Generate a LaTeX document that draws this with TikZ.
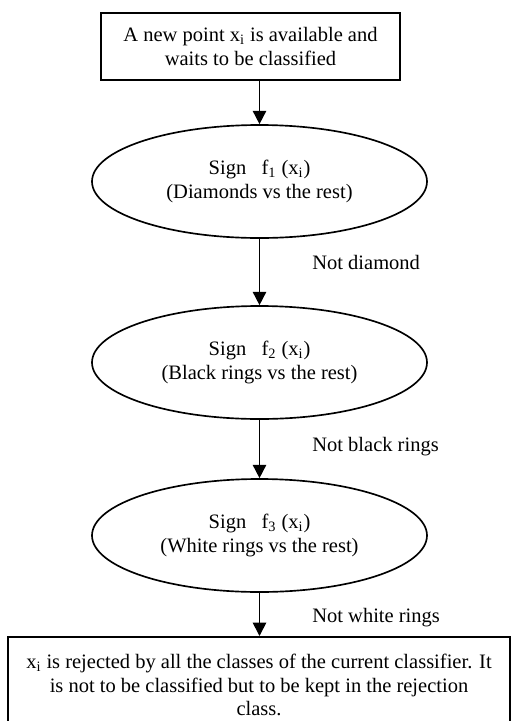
\documentclass[tikz,border=0pt]{standalone}
\usepackage{fontspec}
\setmainfont{Liberation Serif}
\usetikzlibrary{shapes.geometric,arrows.meta}

\tikzset{
  box/.style={draw, line width=1pt, rectangle, align=center, inner sep=0pt},
  test/.style={draw, line width=1pt, ellipse, align=center, inner sep=0pt,
    minimum width=201pt, minimum height=67.8pt},
  flow/.style={line width=1pt, -{Triangle[length=8pt,width=8pt]}},
  lbl/.style={anchor=west, inner sep=0pt}
}

\begin{document}
\begin{tikzpicture}[x=0.6pt, y=-0.6pt, font=\fontsize{12.3}{14}\selectfont]
    \useasboundingbox (0,0) rectangle (512,721);

    % Start
    \node[box, minimum width=179.4pt, minimum height=40.2pt] (start) at (250.5,46.5)
      {A new point x\textsubscript{i} is available and\\waits to be classified};

    % Classifiers
    \node[test] (sign1) at (259.5,181.5)
      {Sign\ \ \ f\textsubscript{1} (x\textsubscript{i})\\(Diamonds vs the rest)};
    \node[test] (sign2) at (259.5,362.5)
      {Sign\ \ \ f\textsubscript{2} (x\textsubscript{i})\\(Black rings vs the rest)};
    \node[test] (sign3) at (259.5,535.5)
      {Sign\ \ \ f\textsubscript{3} (x\textsubscript{i})\\(White rings vs the rest)};

    % Rejection (runs off the bottom edge)
    \node[box, anchor=north, minimum width=301.2pt, minimum height=58pt] (reject) at (259,636)
      {x\textsubscript{i} is rejected by all the classes of the current classifier. It\\
       is not to be classified but to be kept in the rejection\\class.};

    % Arrows
    \draw[flow] (start.south -| sign1.north) -- (sign1.north);
    \draw[flow] (sign1) -- (sign2);
    \draw[flow] (sign2) -- (sign3);
    \draw[flow] (sign3.south) -- (reject.north -| sign3.south);

    % Labels
    \node[lbl] (nd) at (312,262) {Not diamond};
    \node[lbl] (nb) at (312,447) {Not black rings};
    \node[lbl] (nw) at (312,618) {Not white rings};
\end{tikzpicture}
\end{document}
